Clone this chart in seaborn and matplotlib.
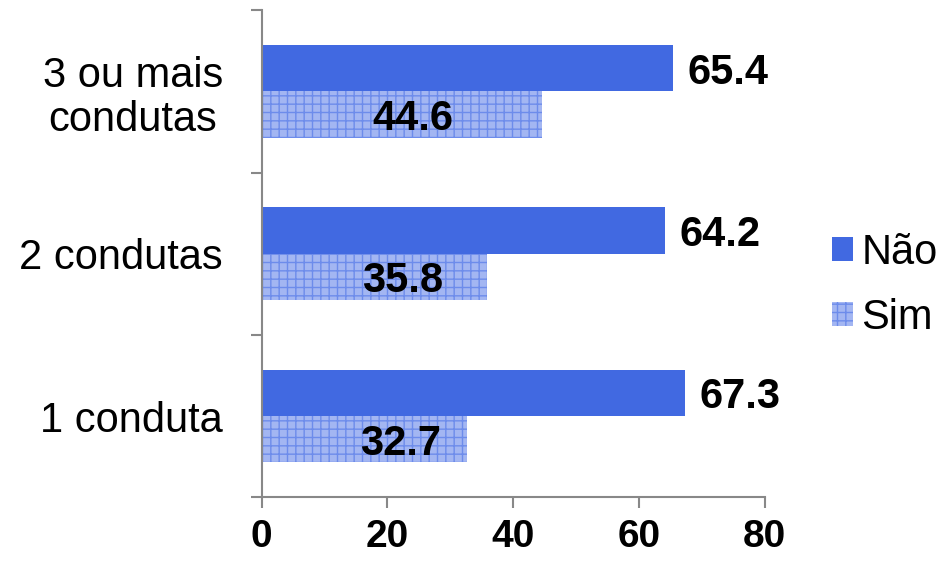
import matplotlib
matplotlib.use("Agg")
import matplotlib.pyplot as plt
import pandas as pd
import seaborn as sns
from matplotlib.patches import Patch

categories = ["3 ou mais\ncondutas", "2 condutas", "1 conduta"]
nao = [65.4, 64.2, 67.3]
sim = [44.6, 35.8, 32.7]
groups = ["Não", "Sim"]

df = pd.DataFrame({
    "cat": categories * 2,
    "grupo": ["Não"] * 3 + ["Sim"] * 3,
    "valor": nao + sim,
})

sns.set_style("white")
plt.rcParams["font.family"] = ["Liberation Sans", "DejaVu Sans"]
plt.rcParams["hatch.linewidth"] = 1.0
plt.rcParams["text.color"] = "black"
plt.rcParams["xtick.color"] = "black"
plt.rcParams["ytick.color"] = "black"

fig = plt.figure(figsize=(9.45, 5.65), dpi=100)
ax = fig.add_axes([0.277, 0.12, 0.532, 0.862])

sns.barplot(data=df, y="cat", x="valor", hue="grupo", order=categories,
            hue_order=groups, palette=["#4169E1", "#a3b6f2"], width=0.57,
            orient="h", saturation=1, ax=ax, legend=False)

for bar in ax.containers[0]:
    bar.set_linewidth(0)
for bar in ax.containers[1]:
    bar.set_hatch("++")
    bar.set_edgecolor("#6d8ceb")
    bar.set_linewidth(0)

# value labels
for bar, v in zip(ax.containers[0], nao):
    ax.text(v + 2.3, bar.get_y() + bar.get_height() / 2, f"{v}",
            ha="left", va="center_baseline", fontsize=30, fontweight="bold")
sim_label_x = [24.0, 22.4, 22.1]
for bar, v, lx in zip(ax.containers[1], sim, sim_label_x):
    ax.text(lx, bar.get_y() + bar.get_height() / 2, f"{v}",
            ha="center", va="center_baseline", fontsize=30, fontweight="bold")

ax.set_xlim(0, 80)
ax.set_ylim(2.5, -0.5)
ax.set_xticks([0, 20, 40, 60, 80])
ax.set_xticklabels(["0", "20", "40", "60", "80"], fontsize=28, fontweight="bold")
ax.set_yticks(range(3))
ax.set_yticklabels(categories, fontsize=30, linespacing=1.15, multialignment="center")
ax.set_yticks([-0.5, 0.5, 1.5, 2.5], minor=True)
ax.tick_params(axis="y", which="major", length=0, pad=28, left=True)
ax.tick_params(axis="y", which="minor", length=8, width=1.5, color="#888888",
               direction="out", left=True)
ax.tick_params(axis="x", length=8, width=1.5, color="#888888", direction="out",
               pad=8, bottom=True)
ax.set_xlabel("")
ax.set_ylabel("")

for s in ["top", "right"]:
    ax.spines[s].set_visible(False)
for s in ["left", "bottom"]:
    ax.spines[s].set_color("#888888")
    ax.spines[s].set_linewidth(1.5)

handles = [Patch(facecolor="#4169E1", linewidth=0),
           Patch(facecolor="#a3b6f2", hatch="++", edgecolor="#6d8ceb", linewidth=0)]
fig.legend(handles, groups, loc="center left", bbox_to_anchor=(832 / 945, 0.495),
           frameon=False, fontsize=30, handlelength=0.5, handleheight=0.5,
           handletextpad=0.2, labelspacing=0.6, borderpad=0, borderaxespad=0)

fig.savefig("out.png", dpi=100)
